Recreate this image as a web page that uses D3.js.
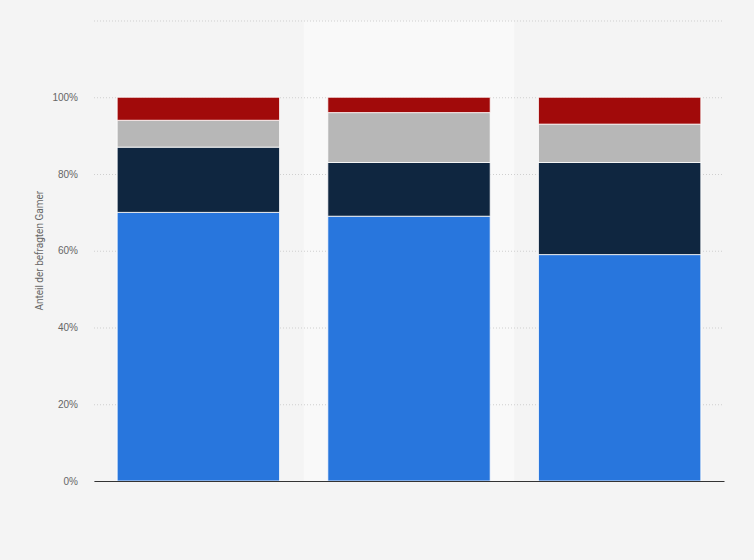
<!DOCTYPE html>
<html><head><meta charset="utf-8">
<script src="https://cdn.jsdelivr.net/npm/d3@7"></script>
<style>html,body{margin:0;padding:0;background:#f4f4f4;}svg{display:block;font-family:Roboto,"Open Sans",Arial,sans-serif;}</style>
</head><body>
<svg id="c" width="754" height="560"></svg>
<script>
const categories = ["Gruppe 1", "Gruppe 2", "Gruppe 3"];
const seriesNames = ["Serie 1", "Serie 2", "Serie 3", "Serie 4"];
const serie1 = [70, 69, 59];
const serie2 = [17, 14, 24];
const serie3 = [7, 13, 10];
const serie4 = [6, 4, 7];
const colors = ["#2876dd", "#0f2640", "#b7b7b7", "#a10a0a"];
const yTicks = [0, 20, 40, 60, 80, 100, 120];
const highlighted = "Gruppe 2";

const svg = d3.select("#c");
const m = {left: 94, right: 30, top: 20.5, bottom: 79};
const W = 754, H = 560;
const x = d3.scaleBand().domain(categories).range([m.left, W - m.right]).paddingInner(0.229).paddingOuter(0.11);
const y = d3.scaleLinear().domain([0, 120]).range([H - m.bottom, m.top]);

const rows = categories.map((c, i) => ({cat: c, s0: serie1[i], s1: serie2[i], s2: serie3[i], s3: serie4[i]}));
const stack = d3.stack().keys(["s0", "s1", "s2", "s3"])(rows);

// highlight band
const step = x.step();
svg.append("rect").attr("x", x(highlighted) - (step - x.bandwidth()) / 2).attr("width", step)
  .attr("y", y(120)).attr("height", y(0) - y(120)).attr("fill", "#f9f9f9");

// gridlines
const yAxis = d3.axisLeft(y).tickValues(yTicks).tickSize(-(W - m.left - m.right)).tickFormat(d => d === 120 ? "" : d + "%").tickPadding(16);
const ga = svg.append("g").attr("transform", `translate(${m.left},0)`).call(yAxis);
ga.select(".domain").remove();
ga.selectAll(".tick line").attr("stroke", "#cfcfcf").attr("stroke-dasharray", "1,2").attr("stroke-width", 1);
ga.selectAll(".tick text").attr("fill", "#666").style("font-size", "10px");

// bars
svg.append("g").selectAll("g").data(stack).join("g").attr("fill", (d, i) => colors[i])
  .selectAll("rect").data(d => d).join("rect")
  .attr("x", d => x(d.data.cat)).attr("width", x.bandwidth())
  .attr("y", d => y(d[1])).attr("height", d => y(d[0]) - y(d[1]))
  .attr("stroke", "#ffffff").attr("stroke-width", 1).attr("stroke-opacity", 0.8);

// x axis line
const xa = svg.append("g").attr("transform", `translate(0,${y(0)})`).call(d3.axisBottom(x).tickSize(0).tickFormat(""));
xa.select(".domain").attr("stroke", "#333").attr("stroke-width", 1.2);

// axis title
svg.append("text").attr("transform", `translate(43,${(y(0) + y(120)) / 2}) rotate(-90)`)
  .attr("text-anchor", "middle").attr("fill", "#666").style("font-size", "10px").text("Anteil der befragten Gamer");
</script>
</body></html>
